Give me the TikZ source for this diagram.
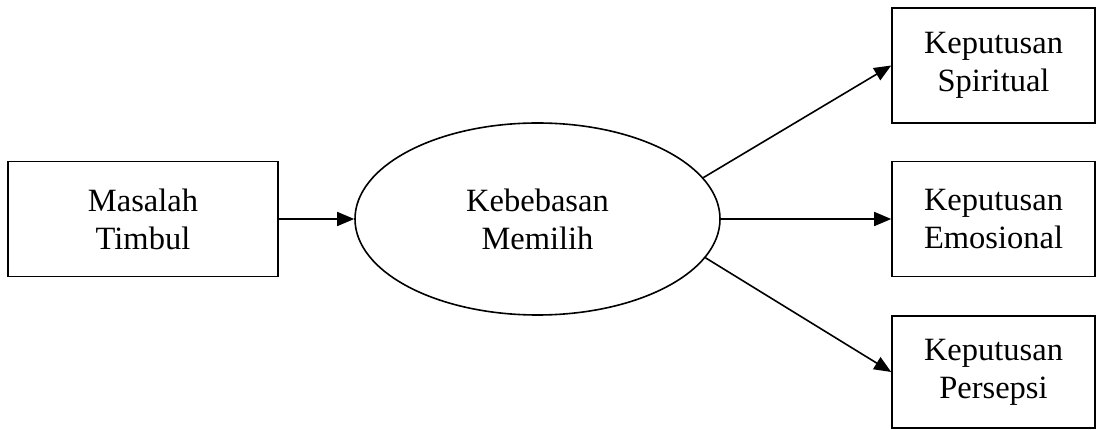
\documentclass[tikz,border=0pt]{standalone}
\usepackage{fontspec}
\setmainfont{Liberation Serif}
\usetikzlibrary{shapes.geometric,arrows.meta}
\begin{document}
\begin{tikzpicture}[x=1pt,y=-1pt,
  every node/.style={font=\fontsize{32.5}{38}\selectfont, align=center, inner sep=0pt, line width=1.6pt},
  boxnode/.style={draw, rectangle, minimum width=#1, minimum height=115pt},
  ellnode/.style={draw, ellipse, minimum width=365pt, minimum height=192pt},
  conn/.style={line width=1.6pt, -{Triangle[length=17pt,width=14pt]}}]
\useasboundingbox (0,0) rectangle (1097,430);
\node[boxnode=270pt] (mt) at (143,219) {Masalah\\Timbul};
\node[ellnode] (kb) at (537.5,219) {Kebebasan\\Memilih};
\node[boxnode=203pt] (sp) at (993.5,65.5) {Keputusan\\Spiritual};
\node[boxnode=203pt] (em) at (993.5,219) {Keputusan\\Emosional};
\node[boxnode=203pt, minimum height=112pt] (pe) at (993.5,372) {Keputusan\\Persepsi};
\draw[conn] (mt.east) -- (kb.west);
\draw[conn] (kb.14) -- (sp.west);
\draw[conn] (kb.east) -- (em.west);
\draw[conn] (kb.-13) -- (pe.west);
\end{tikzpicture}
\end{document}
